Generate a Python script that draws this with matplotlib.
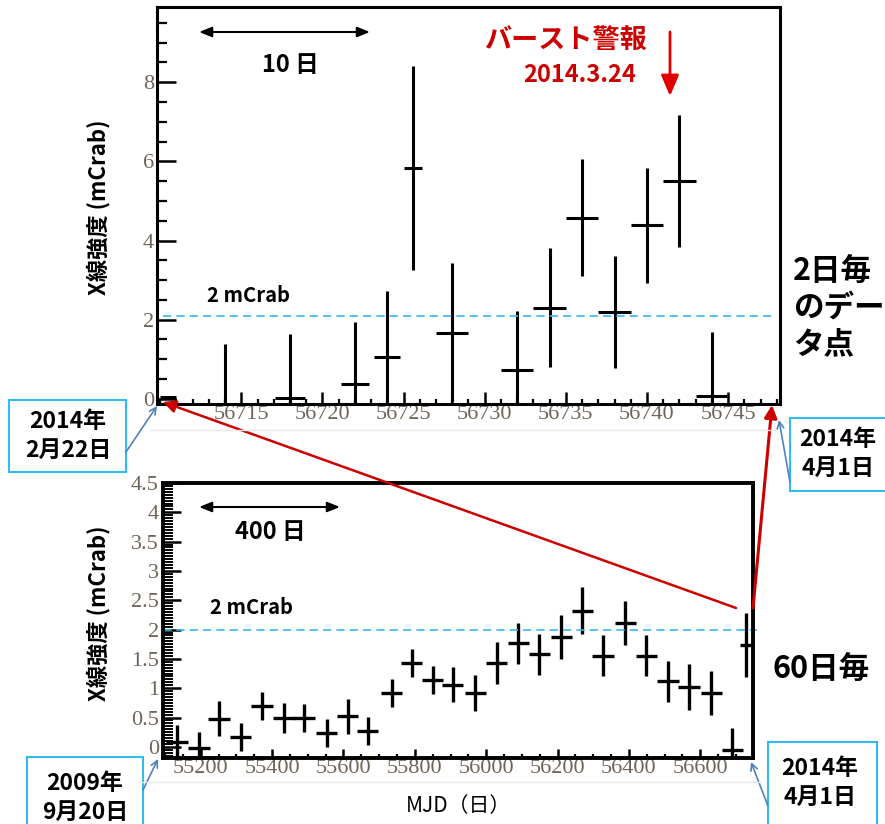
import numpy as np
import matplotlib.pyplot as plt
from matplotlib.patches import Rectangle, FancyArrowPatch
from matplotlib.lines import Line2D
from matplotlib.ticker import MultipleLocator, FuncFormatter

plt.rcParams['font.family'] = ['Noto Sans CJK JP', 'DejaVu Sans']

# 2-day bins, 2014-02-22 .. 2014-04-01
top_mjd = [56710.5, 56714, 56718, 56722, 56724, 56725.6, 56728, 56732, 56734, 56736, 56738, 56740, 56742, 56744]
top_rate = [0.05, -0.25, 0.02, 0.38, 1.06, 5.83, 1.67, 0.73, 2.30, 4.58, 2.20, 4.38, 5.50, 0.08]
top_err = [0.0, 1.63, 1.63, 1.55, 1.67, 2.58, 1.75, 1.50, 1.50, 1.48, 1.42, 1.45, 1.67, 1.62]
top_xerr = [0.5, 1.0, 0.9, 0.85, 0.8, 0.55, 1.0, 1.0, 1.0, 1.0, 1.0, 1.0, 1.0, 0.95]
top_xticks = [56715, 56720, 56725, 56730, 56735, 56740, 56745]

# 60-day bins, 2009-09-20 .. 2014-04-01
bot_mjd = [55133, 55195, 55251, 55312, 55371, 55433, 55489, 55553, 55612, 55668,
           55735, 55791, 55850, 55906, 55970, 56029, 56090, 56149, 56211, 56270,
           56328, 56390, 56449, 56510, 56569, 56631, 56690, 56729]
bot_rate = [0.09, -0.02, 0.48, 0.17, 0.70, 0.49, 0.49, 0.24, 0.52, 0.27,
            0.92, 1.43, 1.14, 1.06, 0.92, 1.43, 1.77, 1.58, 1.87, 2.32,
            1.55, 2.11, 1.55, 1.12, 1.02, 0.92, -0.05, 1.74]
bot_err = [0.28, 0.27, 0.30, 0.24, 0.24, 0.25, 0.24, 0.24, 0.30, 0.24,
           0.24, 0.24, 0.24, 0.30, 0.30, 0.35, 0.35, 0.35, 0.38, 0.40,
           0.35, 0.38, 0.35, 0.35, 0.39, 0.38, 0.37, 0.55]
bot_xerr = [30, 30, 30, 30, 30, 30, 30, 30, 30, 30,
            30, 30, 30, 30, 30, 30, 30, 30, 30, 30,
            30, 30, 30, 30, 30, 30, 30, 17]
bot_xticks = [55200, 55400, 55600, 55800, 56000, 56200, 56400, 56600]

threshold_top = 2.1
threshold_bot = 2.0

W, H = 885, 824
fig = plt.figure(figsize=(8.85, 8.24), dpi=100)


def fx(px):
    return px / W


def fy(py):
    return 1 - py / H


tick_color = '#6f6458'
cyan = '#3cb8ec'
red = '#cc0000'
blue = '#4f81bd'

ax1 = fig.add_axes([fx(157), fy(404), fx(780) - fx(157), fy(7) - fy(404)])
ax2 = fig.add_axes([fx(163), fy(758), fx(753) - fx(163), fy(483) - fy(758)])

ax1.errorbar(top_mjd, top_rate, yerr=top_err, xerr=top_xerr, fmt='none',
             ecolor='black', elinewidth=2.2, capsize=0)
ax2.errorbar(bot_mjd, bot_rate, yerr=bot_err, xerr=bot_xerr, fmt='none',
             ecolor='black', elinewidth=2.4, capsize=0)

ax1.axhline(threshold_top, xmin=0.01, xmax=0.985, color=cyan, lw=1.2, ls=(0, (5, 3)))
ax2.axhline(threshold_bot, xmin=0.0, xmax=1.007, color=cyan, lw=1.2, ls=(0, (5, 3)), clip_on=False)

ax1.set_xlim(56709.8, 56748.2)
ax1.set_ylim(-0.13, 9.9)
ax1.set_xticks(top_xticks)
ax1.xaxis.set_minor_locator(MultipleLocator(1))
ax1.yaxis.set_major_locator(MultipleLocator(2))
ax1.yaxis.set_minor_locator(MultipleLocator(0.5))

ax2.set_xlim(55094, 56748)
ax2.set_ylim(-0.19, 4.5)
ax2.set_xticks(bot_xticks)
ax2.xaxis.set_minor_locator(MultipleLocator(50))
ax2.yaxis.set_major_locator(MultipleLocator(0.5))
ax2.yaxis.set_minor_locator(MultipleLocator(0.05))
ax2.yaxis.set_major_formatter(FuncFormatter(lambda v, p: '%g' % v))

for ax, lw in [(ax1, 2.2), (ax2, 2.8)]:
    for s in ax.spines.values():
        s.set_linewidth(lw)
    ax.tick_params(which='both', direction='in', top=False, right=False,
                   colors='black', labelcolor=tick_color, labelsize=16)

ax1.tick_params(axis='y', which='major', length=14, width=1.8, pad=2)
ax1.tick_params(axis='y', which='minor', length=7, width=1.6)
ax1.tick_params(axis='x', which='major', length=8.5, width=1.8, pad=1)
ax1.tick_params(axis='x', which='minor', length=3.6, width=1.6)
ax2.tick_params(axis='y', which='major', length=13, width=1.8, pad=3)
ax2.tick_params(axis='y', which='minor', length=7, width=1.4)
ax2.tick_params(axis='x', which='major', length=6.5, width=1.8, pad=1)
ax2.tick_params(axis='x', which='minor', length=3, width=1.6)

for ax in (ax1, ax2):
    for lbl in ax.get_xticklabels() + ax.get_yticklabels():
        lbl.set_fontfamily('Liberation Serif')

# y labels and x label
ylab = 'X線強度 (mCrab)'
fig.text(fx(98), fy(207), ylab, rotation=90, ha='center', va='center', fontsize=16, weight='bold')
fig.text(fx(98), fy(613), ylab, rotation=90, ha='center', va='center', fontsize=16, weight='bold')
fig.text(fx(458), fy(806), 'MJD（日）', ha='center', va='center', fontsize=15)

# scale arrows
fig.add_artist(FancyArrowPatch((fx(199), fy(32)), (fx(370), fy(32)), transform=fig.transFigure,
                               arrowstyle='<|-|>,head_length=0.5,head_width=0.2', mutation_scale=15,
                               color='black', lw=1.5, shrinkA=0, shrinkB=0))
fig.text(fx(290), fy(65), '10 日', ha='center', va='center', fontsize=17, weight='bold')
fig.add_artist(FancyArrowPatch((fx(199), fy(507)), (fx(340), fy(507)), transform=fig.transFigure,
                               arrowstyle='<|-|>,head_length=0.5,head_width=0.2', mutation_scale=15,
                               color='black', lw=1.5, shrinkA=0, shrinkB=0))
fig.text(fx(270), fy(532), '400 日', ha='center', va='center', fontsize=17, weight='bold')

fig.text(fx(207), fy(296), '2 mCrab', ha='left', va='center', fontsize=14.5, weight='bold')
fig.text(fx(210), fy(608), '2 mCrab', ha='left', va='center', fontsize=14.5, weight='bold')

# burst alert
fig.text(fx(565), fy(40), 'バースト警報', ha='center', va='center', fontsize=19.5, weight='bold', color=red)
fig.text(fx(580), fy(75), '2014.3.24', ha='center', va='center', fontsize=17, weight='bold', color=red)
fig.add_artist(FancyArrowPatch((fx(670), fy(32)), (fx(670), fy(96)), transform=fig.transFigure,
                               arrowstyle='-|>,head_length=0.7,head_width=0.3', mutation_scale=18,
                               color='#e00000', lw=2, shrinkA=0, shrinkB=0))

# bin size notes
fig.text(fx(793), fy(308), '2日毎\nのデー\nタ点', ha='left', va='center', fontsize=22,
         weight='bold', linespacing=1.15)
fig.text(fx(773), fy(670), '60日毎', ha='left', va='center', fontsize=22, weight='bold')

# red zoom connectors
fig.add_artist(FancyArrowPatch((fx(736), fy(608)), (fx(163), fy(402)), transform=fig.transFigure,
                               arrowstyle='-|>,head_length=0.5,head_width=0.25', mutation_scale=15,
                               color=red, lw=1.8, shrinkA=0, shrinkB=0))
fig.add_artist(FancyArrowPatch((fx(753), fy(608)), (fx(772), fy(405)), transform=fig.transFigure,
                               arrowstyle='-|>,head_length=0.5,head_width=0.25', mutation_scale=15,
                               color=red, lw=2.2, shrinkA=0, shrinkB=0))

# date callouts
boxes = [
    ((9, 400, 126, 472), '2014年\n2月22日', (68, 436), (126, 452), (157, 406)),
    ((790, 418, 890, 491), '2014年\n4月1日', (838, 454), (790, 482), (779, 420)),
    ((27, 757, 143, 830), '2009年\n9月20日', (85, 798), (143, 790), (158, 759)),
    ((768, 742, 877, 830), '2014年\n4月1日', (820, 783), (768, 806), (751, 762)),
]
for (x0, y0, x1, y1), txt, (tx, ty), pa, pb in boxes:
    fig.add_artist(Rectangle((fx(x0), fy(y1)), fx(x1) - fx(x0), fy(y0) - fy(y1),
                             transform=fig.transFigure, facecolor='white',
                             edgecolor='#33bbee', lw=1.5))
    fig.text(fx(tx), fy(ty), txt, ha='center', va='center', fontsize=16.5,
             weight='bold', linespacing=1.3, multialignment='center')
    fig.add_artist(FancyArrowPatch((fx(pa[0]), fy(pa[1])), (fx(pb[0]), fy(pb[1])),
                                   transform=fig.transFigure, arrowstyle='->',
                                   mutation_scale=12, color=blue, lw=1.2,
                                   shrinkA=0, shrinkB=0))

# faint frame lines of the pasted panels
fig.add_artist(Line2D([fx(150), fx(775)], [fy(430), fy(430)], color='#e8e8e8', lw=1))
fig.add_artist(Line2D([fx(140), fx(760)], [fy(782), fy(782)], color='#e8e8e8', lw=1))

fig.savefig('out.png', dpi=100)
